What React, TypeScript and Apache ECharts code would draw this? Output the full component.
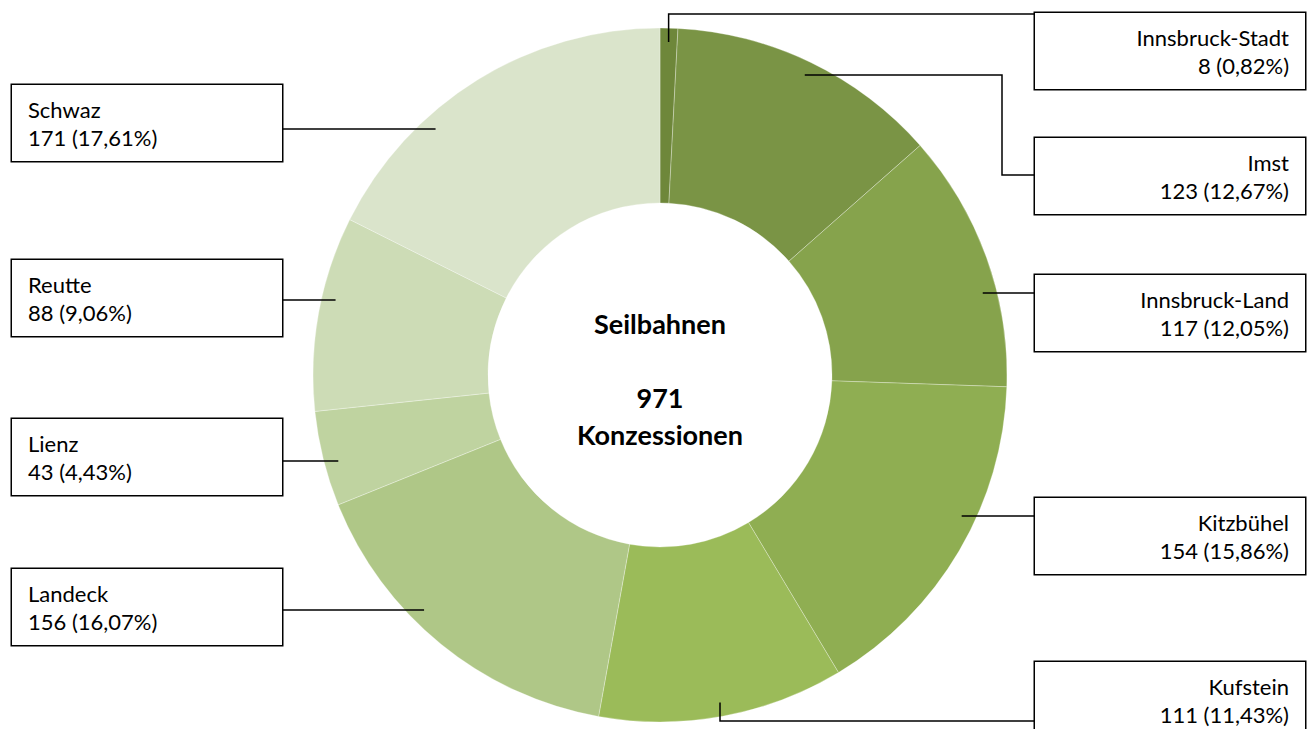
import React, { useEffect, useRef } from "react";
import * as echarts from "echarts";

const categories = [
  "Innsbruck-Stadt",
  "Imst",
  "Innsbruck-Land",
  "Kitzbühel",
  "Kufstein",
  "Landeck",
  "Lienz",
  "Reutte",
  "Schwaz",
];
const values = [8, 123, 117, 154, 111, 156, 43, 88, 171];
const colors = [
  "#6E873A",
  "#7A9445",
  "#86A34C",
  "#8FAE52",
  "#9BBB59",
  "#AFC787",
  "#BFD3A0",
  "#CDDCB6",
  "#DAE4CB",
];
const centerTitle = "Seilbahnen";
const centerTotalLabel = "Konzessionen";

// label box layout: side, box top, leader y, leader mode, optional elbow
const boxSide = ["right", "right", "right", "right", "right", "left", "left", "left", "left"];
const boxTop = [13, 138, 275, 498, 662, 569, 419, 260, 85];
const leaderY = [14, 175, 293, 516, 721, 610, 461, 300, 129];
const leaderMode = ["up", "elbow", "straight", "straight", "down", "straight", "straight", "straight", "straight"];
const elbowX = [0, 1002, 0, 0, 0, 0, 0, 0, 0];

const CX = 660;
const CY = 375;
const R_IN = 172;
const R_OUT = 347;
const R_LEAD = 333;
const LEFT_X = 12;
const RIGHT_X = 1305;
const BOX_RIGHT_EDGE = 1034;
const BOX_LEFT_EDGE = 283;

export default function App() {
  const ref = useRef<HTMLDivElement>(null);
  useEffect(() => {
    document.body.style.margin = "0";
    const chart = echarts.init(ref.current!, null, { renderer: "svg" });
    const total = values.reduce((a, b) => a + b, 0);
    const cum: number[] = [];
    let acc = 0;
    values.forEach((v) => {
      cum.push(acc);
      acc += v;
    });
    const midAngle = (i: number) => ((cum[i] + values[i] / 2) / total) * Math.PI * 2;

    const pieData = categories.map((name, i) => ({
      name,
      value: values[i],
      itemStyle: { color: colors[i] },
    }));

    chart.setOption({
      animation: false,
      backgroundColor: "#ffffff",
      graphic: [
        {
          type: "text",
          x: CX,
          y: 379,
          z: 10,
          style: {
            text: `${centerTitle}\n\n${total}\n${centerTotalLabel}`,
            font: "bold 27px Lato",
            lineHeight: 37,
            align: "center",
            verticalAlign: "middle",
            fill: "#000",
          },
        },
      ],
      series: [
        {
          type: "pie",
          z: 2,
          center: [CX, CY],
          radius: [R_IN, R_OUT],
          startAngle: 90,
          clockwise: true,
          silent: true,
          itemStyle: { borderColor: "rgba(255,255,255,0.5)", borderWidth: 0.6 },
          emphasis: { disabled: true },
          label: { show: false },
          labelLine: { show: false },
          data: pieData,
        },
        {
          type: "pie",
          z: 5,
          center: [CX, CY],
          radius: [R_IN, R_OUT],
          startAngle: 90,
          clockwise: true,
          silent: true,
          avoidLabelOverlap: false,
          itemStyle: { color: "rgba(0,0,0,0)", borderWidth: 0 },
          emphasis: { disabled: true },
          data: categories.map((name, i) => ({
            name,
            value: values[i],
            itemStyle: { color: "rgba(0,0,0,0)" },
          })),
          label: {
            show: true,
            position: "outside",
            formatter: (p: any) =>
              `${p.name}\n${p.value} (${((p.value / total) * 100).toFixed(2).replace(".", ",")}%)`,
            color: "#000",
            fontFamily: "Lato",
            fontSize: 22,
            lineHeight: 28,
            backgroundColor: "#fff",
            borderColor: "#000",
            borderWidth: 1.5,
            padding: [10, 16, 10, 16],
            width: 238,
          },
          labelLine: {
            show: true,
            smooth: false,
            lineStyle: { color: "#000", width: 1.5 },
          },
          labelLayout: (params: any) => {
            const i = params.dataIndex;
            const right = boxSide[i] === "right";
            const edgeX = right ? BOX_RIGHT_EDGE : BOX_LEFT_EDGE;
            const ly = leaderY[i];
            let pts: number[][];
            const mode = leaderMode[i];
            if (mode === "straight") {
              const dy = ly - CY;
              const dx = Math.sqrt(R_LEAD * R_LEAD - dy * dy);
              const sx = right ? CX + dx : CX - dx;
              pts = [
                [sx, ly],
                [edgeX, ly],
              ];
            } else {
              const a = midAngle(i);
              const sx = CX + R_LEAD * Math.sin(a);
              const sy = CY - R_LEAD * Math.cos(a);
              if (mode === "elbow") {
                pts = [
                  [sx, sy],
                  [elbowX[i], sy],
                  [elbowX[i], ly],
                  [edgeX, ly],
                ];
              } else {
                pts = [
                  [sx, sy],
                  [sx, ly],
                  [edgeX, ly],
                ];
              }
            }
            return {
              x: right ? RIGHT_X : LEFT_X,
              y: boxTop[i],
              align: right ? "right" : "left",
              verticalAlign: "top",
              labelLinePoints: pts,
            };
          },
        },
      ],
    });
    return () => chart.dispose();
  }, []);
  return <div ref={ref} style={{ width: 1312, height: 729 }} />;
}
